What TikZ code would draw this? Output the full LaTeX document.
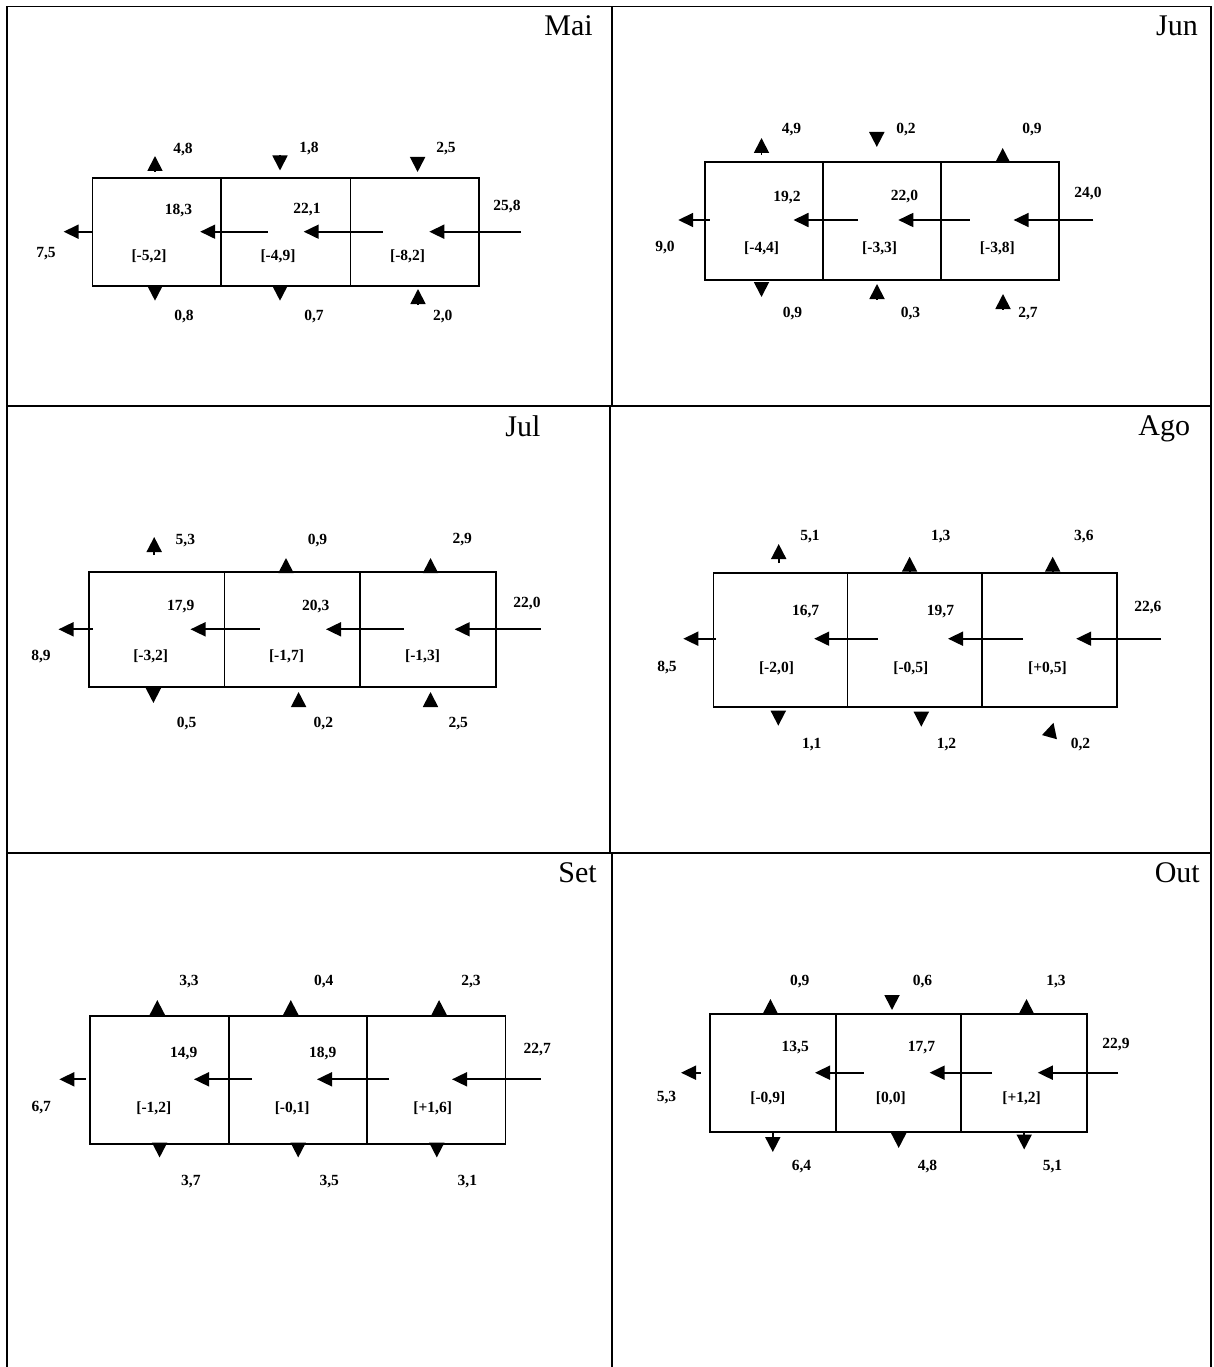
\documentclass[tikz,border=0pt]{standalone}
\usepackage{fontspec}
\setmainfont{Liberation Serif}
\usetikzlibrary{arrows.meta}
\tikzset{
  gridline/.style={line width=1.8pt},
  cellbox/.style={line width=1.8pt},
  flow/.style={line width=1.8pt,-{Triangle[length=15pt,width=14pt]}},
  vflow/.style={line width=1.8pt,-{Triangle[length=15pt,width=15pt]}},
  lab/.style={inner sep=0pt,font=\fontsize{15.5}{18}\selectfont\bfseries},
  mon/.style={inner sep=0pt,anchor=base east,font=\fontsize{30}{34}\selectfont}
}
\begin{document}
\begin{tikzpicture}[x=1pt,y=-1pt]
\useasboundingbox (0,0) rectangle (1213,1367);
% table grid
\draw[gridline] (7.3,1367) -- (7.3,6.5) -- (1211,6.5) -- (1211,1367);
\draw[gridline] (7.3,406) -- (1211,406);
\draw[gridline] (7.3,853) -- (1211,853);
\draw[gridline] (612,6.5) -- (612,406);
\draw[gridline] (610,406) -- (610,853);
\draw[gridline] (612,853) -- (612,1367);

% ================= Mai =================
\node[mon] (mai) at (593,36) {Mai};
\draw[cellbox] (92.5,178.3) rectangle (479.3,285.7);
\draw[cellbox] (221.3,178.3) -- (221.3,285.7);
\draw[cellbox] (350.5,178.3) -- (350.5,285.7);
\draw[vflow] (155,171) -- (155,156);
\draw[vflow] (280,155) -- (280,170.5);
\draw[vflow] (417.6,157) -- (417.6,172);
\node[lab] (mai-t1) at (183,149.5) {4,8};
\node[lab] (mai-t2) at (309,149) {1,8};
\node[lab] (mai-t3) at (446,149) {2,5};
\node[lab] (mai-c1) at (178.5,211) {18,3};
\node[lab] (mai-c2) at (307,210) {22,1};
\node[lab] (mai-c3) at (507,207) {25,8};
\draw[flow] (521,231.7) -- (429.3,231.7);
\draw[flow] (382.5,231.7) -- (303.7,231.7);
\draw[flow] (267.8,231.7) -- (200.2,231.7);
\draw[flow] (92.5,231.7) -- (63.6,231.7);
\node[lab] (mai-b1) at (149,256) {[-5,2]};
\node[lab] (mai-b2) at (278,256) {[-4,9]};
\node[lab] (mai-b3) at (407.6,256) {[-8,2]};
\node[lab] (mai-out) at (46,254) {7,5};
\draw[vflow] (155,285.7) -- (155,300.7);
\draw[vflow] (280,285.7) -- (280,300.7);
\draw[vflow] (418,304) -- (418,289);
\node[lab] (mai-d1) at (184,317) {0,8};
\node[lab] (mai-d2) at (314,317) {0,7};
\node[lab] (mai-d3) at (442.7,317) {2,0};

% ================= Jun =================
\node[mon] (jun) at (1198,36) {Jun};
\draw[cellbox] (704.8,162.3) rectangle (1059.3,280);
\draw[cellbox] (822.8,162.3) -- (822.8,280);
\draw[cellbox] (941.3,162.3) -- (941.3,280);
\draw[vflow] (761.5,155) -- (761.5,138);
\draw[vflow] (876.8,132) -- (876.8,147);
\draw[vflow] (1002.7,162.3) -- (1002.7,148);
\node[lab] (jun-t1) at (791.5,130) {4,9};
\node[lab] (jun-t2) at (906,130) {0,2};
\node[lab] (jun-t3) at (1032,130) {0,9};
\node[lab] (jun-c1) at (787,197.5) {19,2};
\node[lab] (jun-c2) at (904.5,197) {22,0};
\node[lab] (jun-c3) at (1088,194) {24,0};
\draw[flow] (1093.3,220) -- (1013.6,220);
\draw[flow] (969.8,220) -- (898.3,220);
\draw[flow] (858,220) -- (793.5,220);
\draw[flow] (709.5,220) -- (678.2,220);
\node[lab] (jun-b1) at (761.6,248) {[-4,4]};
\node[lab] (jun-b2) at (879.6,248) {[-3,3]};
\node[lab] (jun-b3) at (997.4,248) {[-3,8]};
\node[lab] (jun-out) at (665,248) {9,0};
\draw[vflow] (761.5,282) -- (761.5,297);
\draw[vflow] (877,299) -- (877,284);
\draw[vflow] (1003,309) -- (1003,294);
\node[lab] (jun-d1) at (792.5,314) {0,9};
\node[lab] (jun-d2) at (910.5,314) {0,3};
\node[lab] (jun-d3) at (1028,314) {2,7};

% ================= Jul =================
\node[mon] (jul) at (540.6,436) {Jul};
\draw[cellbox] (88.6,572) rectangle (495.7,687.3);
\draw[cellbox] (224.4,572) -- (224.4,687.3);
\draw[cellbox] (359.9,572) -- (359.9,687.3);
\draw[vflow] (154.2,555) -- (154.2,537);
\draw[vflow] (286,572) -- (286,558);
\draw[vflow] (430.5,572) -- (430.5,558);
\node[lab] (jul-t1) at (185.4,541) {5,3};
\node[lab] (jul-t2) at (317.5,541) {0,9};
\node[lab] (jul-t3) at (462.3,540) {2,9};
\node[lab] (jul-c1) at (180.7,606.7) {17,9};
\node[lab] (jul-c2) at (315.8,607) {20,3};
\node[lab] (jul-c3) at (527,603.6) {22,0};
\draw[flow] (540.6,629.3) -- (454.7,629.3);
\draw[flow] (403.6,629.3) -- (326,629.3);
\draw[flow] (259.6,629.3) -- (190.5,629.3);
\draw[flow] (92.5,629.3) -- (58.5,629.3);
\node[lab] (jul-b1) at (150.7,656.7) {[-3,2]};
\node[lab] (jul-b2) at (286.5,656.7) {[-1,7]};
\node[lab] (jul-b3) at (422.6,656.7) {[-1,3]};
\node[lab] (jul-out) at (41,656.7) {8,9};
\draw[vflow] (153.4,688) -- (153.4,703);
\draw[vflow] (298.6,706) -- (298.6,692);
\draw[vflow] (430.5,706) -- (430.5,692);
\node[lab] (jul-d1) at (186.6,724) {0,5};
\node[lab] (jul-d2) at (323.4,724) {0,2};
\node[lab] (jul-d3) at (458.3,724) {2,5};

% ================= Ago =================
\node[mon] (ago) at (1190.3,435) {Ago};
\draw[cellbox] (713.4,572.7) rectangle (1116.8,706.7);
\draw[cellbox] (847.5,572.7) -- (847.5,706.7);
\draw[cellbox] (982.3,572.7) -- (982.3,706.7);
\draw[vflow] (778.7,563) -- (778.7,544);
\draw[vflow] (909.6,571) -- (909.6,556.7);
\draw[vflow] (1052.7,571) -- (1052.7,556.7);
\node[lab] (ago-t1) at (810,536.7) {5,1};
\node[lab] (ago-t2) at (940.7,536.7) {1,3};
\node[lab] (ago-t3) at (1083.9,536.7) {3,6};
\node[lab] (ago-c1) at (805.6,611.7) {16,7};
\node[lab] (ago-c2) at (940.5,611.7) {19,7};
\node[lab] (ago-c3) at (1147.9,607.8) {22,6};
\draw[flow] (1161,638.7) -- (1076.2,638.7);
\draw[flow] (1023,638.7) -- (948,638.7);
\draw[flow] (877.6,638.7) -- (814.2,638.7);
\draw[flow] (716.1,638.7) -- (683.3,638.7);
\node[lab] (ago-b1) at (776.5,668) {[-2,0]};
\node[lab] (ago-b2) at (910.8,668) {[-0,5]};
\node[lab] (ago-b3) at (1047.5,668) {[+0,5]};
\node[lab] (ago-out) at (667,668) {8,5};
\draw[vflow] (778.3,710.7) -- (778.3,725.7);
\draw[vflow] (921.3,711.7) -- (921.3,726.7);
\draw[vflow] (1049.5,737) -- (1053.5,722.7);
\node[lab] (ago-d1) at (811.7,745) {1,1};
\node[lab] (ago-d2) at (946.5,745) {1,2};
\node[lab] (ago-d3) at (1080.5,745) {0,2};

% ================= Set =================
\node[mon] (set) at (597,882) {Set};
\draw[cellbox] (90.2,1015.7) rectangle (505.5,1144.3);
\draw[cellbox] (228.7,1015.7) -- (228.7,1144.3);
\draw[cellbox] (366.9,1015.7) -- (366.9,1144.3);
\draw[vflow] (157.3,1015.7) -- (157.3,1000);
\draw[vflow] (290.8,1015.7) -- (290.8,1000);
\draw[vflow] (439.1,1015.7) -- (439.1,1000);
\node[lab] (set-t1) at (189,981.3) {3,3};
\node[lab] (set-t2) at (323.8,981.3) {0,4};
\node[lab] (set-t3) at (471,981.3) {2,3};
\node[lab] (set-c1) at (183.8,1053.3) {14,9};
\node[lab] (set-c2) at (322.8,1053.3) {18,9};
\node[lab] (set-c3) at (537.3,1049.5) {22,7};
\draw[flow] (540.6,1079.3) -- (452,1079.3);
\draw[flow] (389.2,1079.3) -- (317,1079.3);
\draw[flow] (252.1,1079.3) -- (194,1079.3);
\draw[flow] (85.5,1079.3) -- (59.3,1079.3);
\node[lab] (set-b1) at (153.8,1108.3) {[-1,2]};
\node[lab] (set-b2) at (292.2,1108.3) {[-0,1]};
\node[lab] (set-b3) at (432.7,1108.3) {[+1,6]};
\node[lab] (set-out) at (41.2,1108) {6,7};
\draw[vflow] (159.6,1143) -- (159.6,1157.5);
\draw[vflow] (298.2,1143) -- (298.2,1157.5);
\draw[vflow] (436.8,1143) -- (436.8,1157.5);
\node[lab] (set-d1) at (190.9,1181.7) {3,7};
\node[lab] (set-d2) at (329.3,1181.7) {3,5};
\node[lab] (set-d3) at (467.4,1181.7) {3,1};

% ================= Out =================
\node[mon] (out) at (1200,882) {Out};
\draw[cellbox] (710.2,1014) rectangle (1086.7,1131.7);
\draw[cellbox] (835.7,1014) -- (835.7,1131.7);
\draw[cellbox] (961.2,1014) -- (961.2,1131.7);
\draw[vflow] (770.4,1014) -- (770.4,999);
\draw[vflow] (892,995) -- (892,1010);
\draw[vflow] (1026.5,1014) -- (1026.5,999);
\node[lab] (out-t1) at (799.8,981.8) {0,9};
\node[lab] (out-t2) at (922.5,981.8) {0,6};
\node[lab] (out-t3) at (1056,981.8) {1,3};
\node[lab] (out-c1) at (795.3,1047.5) {13,5};
\node[lab] (out-c2) at (921.5,1047.5) {17,7};
\node[lab] (out-c3) at (1116,1044.3) {22,9};
\draw[flow] (1118,1072.7) -- (1037.8,1072.7);
\draw[flow] (992.1,1072.7) -- (929.6,1072.7);
\draw[flow] (863.9,1072.7) -- (815,1072.7);
\draw[flow] (700.9,1072.7) -- (681,1072.7);
\node[lab] (out-b1) at (767.8,1098.3) {[-0,9]};
\node[lab] (out-b2) at (890.8,1098.3) {[0,0]};
\node[lab] (out-b3) at (1021.6,1098.3) {[+1,2]};
\node[lab] (out-out) at (666.5,1098) {5,3};
\draw[vflow] (772.8,1131.7) -- (772.8,1152);
\draw[vflow] (898.7,1132) -- (898.7,1148);
\draw[vflow] (1024.2,1131.7) -- (1024.2,1149.5);
\node[lab] (out-d1) at (801.5,1167) {6,4};
\node[lab] (out-d2) at (927.5,1167) {4,8};
\node[lab] (out-d3) at (1052.5,1167) {5,1};
\end{tikzpicture}
\end{document}
